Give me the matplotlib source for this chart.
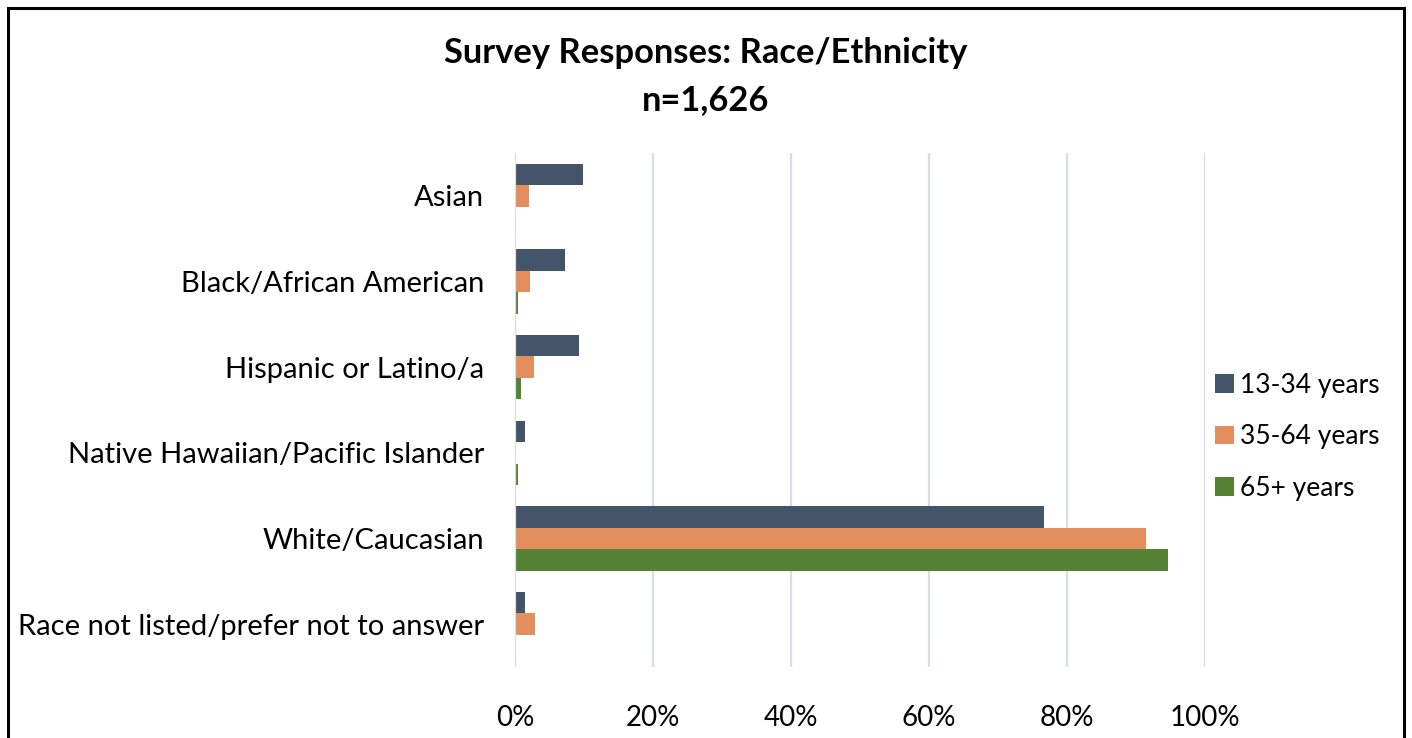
import matplotlib
matplotlib.use("Agg")
import matplotlib.pyplot as plt
from matplotlib.patches import Rectangle
from matplotlib.ticker import FuncFormatter, MultipleLocator
import numpy as np

plt.rcParams['font.family'] = ['Lato', 'DejaVu Sans']

categories = [
    "Asian",
    "Black/African American",
    "Hispanic or Latino/a",
    "Native Hawaiian/Pacific Islander",
    "White/Caucasian",
    "Race not listed/prefer not to answer",
]
series_names = ["13-34 years", "35-64 years", "65+ years"]
young = [9.8, 7.3, 9.3, 1.5, 76.7, 1.5]
middle = [2.0, 2.2, 2.7, 0.0, 91.4, 2.9]
senior = [0.0, 0.4, 0.8, 0.4, 94.7, 0.0]
colors = ["#44546A", "#E48E5E", "#548235"]

W, H = 1412, 738
fig = plt.figure(figsize=(W / 100, H / 100), dpi=100)

# plot area in pixel coordinates
left, right, top, bottom = 515, 1205, 153, 667
ax = fig.add_axes([left / W, 1 - bottom / H, (right - left) / W, (bottom - top) / H])

y = np.arange(len(categories))
bh = 0.25
for i, (vals, name, c) in enumerate(zip([young, middle, senior], series_names, colors)):
    ax.barh(y + (i - 1) * bh, vals, height=bh, color=c, label=name, zorder=3)

ax.set_xlim(0, 100)
ax.set_ylim(len(categories) - 0.5, -0.5)
ax.xaxis.set_major_locator(MultipleLocator(20))
ax.xaxis.set_major_formatter(FuncFormatter(lambda v, p: f"{v:.0f}%"))
ax.set_yticks(y)
ax.set_yticklabels(categories)
ax.grid(axis="x", color="#D9DEE6", linewidth=1.6, zorder=0)
for s in ax.spines.values():
    s.set_visible(False)
ax.axvline(0, color="#D9DEE6", linewidth=1.6, zorder=4)
ax.tick_params(axis="both", length=0, colors="black")
ax.tick_params(axis="x", pad=27, labelsize=20)
ax.tick_params(axis="y", pad=22, labelsize=21)

leg = fig.legend(
    loc="upper left",
    bbox_to_anchor=(1191 / W, 1 - 349 / H),
    frameon=False,
    fontsize=19,
    handlelength=0.72,
    handleheight=0.72,
    handletextpad=0.25,
    labelspacing=1.0,
)

fig.text(706 / W, 1 - 53 / H, "Survey Responses: Race/Ethnicity", ha="center", va="center",
         fontsize=24.8, fontweight="bold")
fig.text(706 / W, 1 - 100 / H, "n=1,626", ha="center", va="center",
         fontsize=24.8, fontweight="bold")

# outer frame
fig.patches.append(Rectangle((8 / W, -0.05), (1404 - 8) / W, 1.05 - 8 / H,
                             transform=fig.transFigure, fill=False,
                             edgecolor="black", linewidth=2.2))

fig.savefig("out.png", dpi=100)
